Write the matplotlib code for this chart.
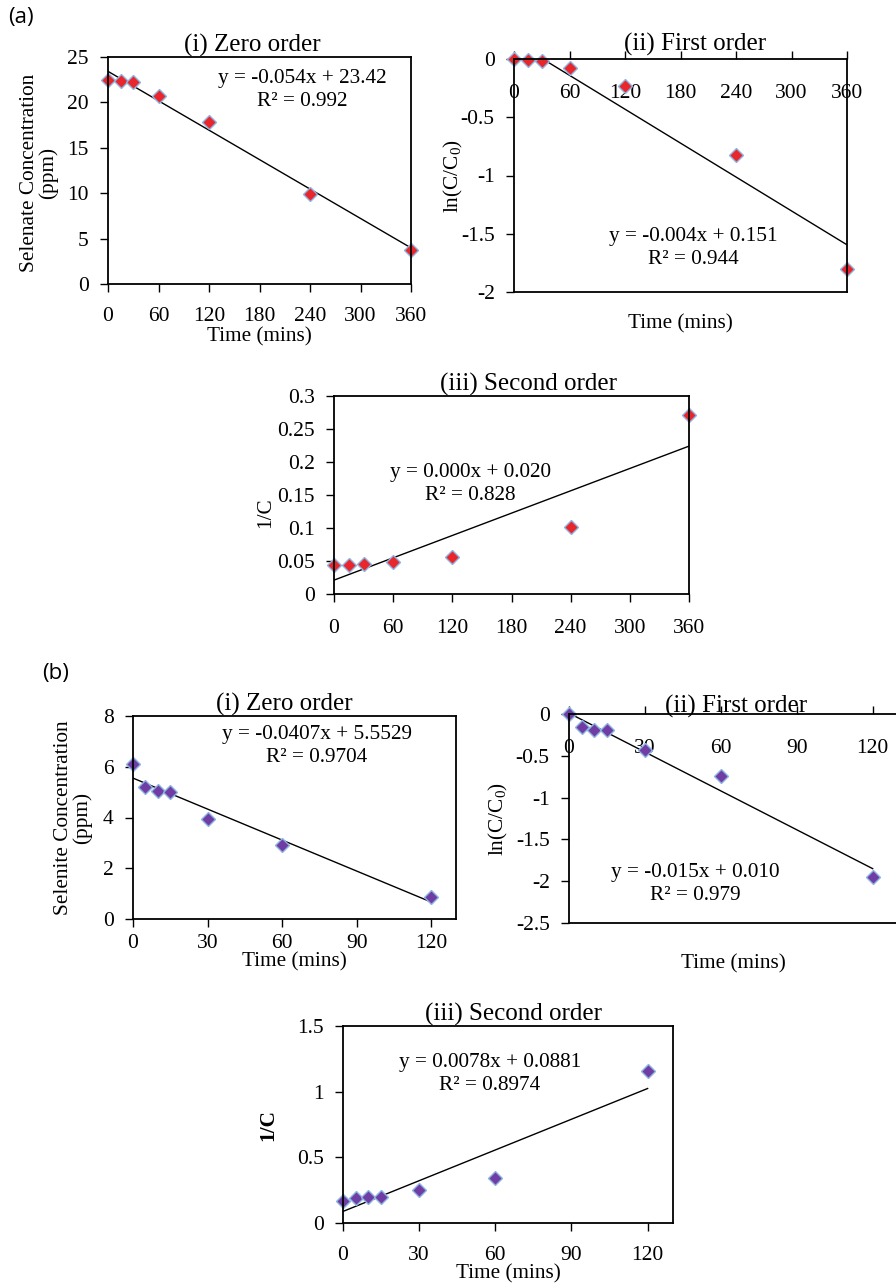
import numpy as np
import matplotlib
matplotlib.use('Agg')
import matplotlib.pyplot as plt

## Data
# (a) selenate
t_a = [0, 15, 30, 60, 120, 240, 360]
conc_a = [22.5, 22.4, 22.2, 20.7, 17.8, 9.9, 3.7]
lnc_a = [0.0, -0.005, -0.015, -0.08, -0.235, -0.82, -1.80]
inv_a = [0.0445, 0.0446, 0.045, 0.048, 0.056, 0.101, 0.271]
fit_a = [(-0.054, 23.42), (-0.00485, 0.151), (0.000564, 0.021)]
eq_a = [('y = -0.054x + 23.42', 'R² = 0.992'),
        ('y = -0.004x + 0.151', 'R² = 0.944'),
        ('y = 0.000x + 0.020', 'R² = 0.828')]

# (b) selenite
t_b = [0, 5, 10, 15, 30, 60, 120]
conc_b = [6.1, 5.2, 5.05, 5.02, 3.95, 2.93, 0.88]
lnc_b = [0.0, -0.16, -0.19, -0.19, -0.43, -0.74, -1.95]
inv_b = [0.164, 0.192, 0.198, 0.199, 0.253, 0.341, 1.155]
fit_b = [(-0.0407, 5.5529), (-0.0155, 0.010), (0.0078, 0.0881)]
eq_b = [('y = -0.0407x + 5.5529', 'R² = 0.9704'),
        ('y = -0.015x + 0.010', 'R² = 0.979'),
        ('y = 0.0078x + 0.0881', 'R² = 0.8974')]

W, H = 896, 1284
DPI = 100
PT = 72.0 / DPI   # points per pixel

plt.rcParams['font.family'] = ['Liberation Serif', 'DejaVu Serif']
plt.rcParams['mathtext.fontset'] = 'custom'
plt.rcParams['mathtext.rm'] = 'Liberation Serif'
plt.rcParams['mathtext.it'] = 'Liberation Serif:italic'

fig = plt.figure(figsize=(W / DPI, H / DPI), dpi=DPI)
fs_tick = 15.5
fs_title = 18
fs_lab = 15.3

red = '#E8262B'
purple = '#6F3DA3'
edge = '#8DB4E2'


def px_axes(l, t, r, b):
   return fig.add_axes([l / W, 1 - b / H, (r - l) / W, (b - t) / H])


def style(ax, xlim, ylim, xt, yt, xpad_px, top_axis=False):
   ax.set_xlim(xlim)
   ax.set_ylim(ylim)
   ax.set_xticks(xt)
   ax.set_yticks(yt)
   ax.set_yticklabels(['%g' % v for v in yt])
   for s in ax.spines.values():
      s.set_linewidth(1.3)
   ax.tick_params(axis='y', direction='out', length=6, width=1, pad=11 * PT, labelsize=fs_tick)
   if top_axis:
      # x axis crosses at y = 0 (top): ticks point up, labels hang below the line
      ax.tick_params(axis='x', direction='out', length=6, width=1, top=True, bottom=False,
                     labeltop=True, labelbottom=False, pad=-(xpad_px + 6) * PT, labelsize=fs_tick)
   else:
      ax.tick_params(axis='x', direction='out', length=6, width=1, pad=xpad_px * PT, labelsize=fs_tick)


def draw(ax, t, y, fit, color, xend):
   xs = np.array([t[0], xend])
   m, c = fit
   ax.plot(xs, m * xs + c, color='black', lw=1.0, zorder=1)
   ax.plot(t, y, 'D', markersize=7.5, markerfacecolor=color, markeredgecolor=edge,
           markeredgewidth=1.0, linestyle='none', zorder=2, clip_on=False)


def eq_text(xpx, ypx, lines):
   fig.text(xpx / W, 1 - ypx / H, lines[0], ha='center', va='center', fontsize=fs_lab)
   fig.text(xpx / W, 1 - (ypx + 23) / H, lines[1], ha='center', va='center', fontsize=fs_lab)


# ---------------- (a) ----------------
fig.text(8 / W, 1 - 18 / H, '(a)', family='Open Sans', fontsize=16, ha='left', va='center')

# (i) zero order
ax = px_axes(108, 57, 411, 284)
style(ax, (0, 360), (0, 25), range(0, 361, 60), range(0, 26, 5), 15)
draw(ax, t_a, conc_a, fit_a[0], red, 360)
ax.set_title('(i) Zero order', fontsize=fs_title, pad=4, x=0.475)
ax.set_ylabel('Selenate Concentration\n(ppm)', fontsize=fs_lab, linespacing=0.95)
ax.yaxis.set_label_coords(-0.165, 0.49)
ax.set_xlabel('Time (mins)', fontsize=fs_lab)
ax.xaxis.set_label_coords(0.5, -0.19)
eq_text(302, 78, eq_a[0])

# (ii) first order
ax = px_axes(514, 59, 847, 292)
style(ax, (0, 360), (-2, 0), range(0, 361, 60), [-2, -1.5, -1, -0.5, 0], 46, top_axis=True)
draw(ax, t_a, lnc_a, fit_a[1], red, 360)
ax.set_title('(ii) First order', fontsize=fs_title, pad=6, x=0.544)
ax.set_ylabel('ln(C/C$_0$)', fontsize=fs_lab)
ax.yaxis.set_label_coords(-0.147, 0.5)
ax.set_xlabel('Time (mins)', fontsize=fs_lab)
ax.xaxis.set_label_coords(0.5, -0.095)
eq_text(693, 236, eq_a[1])

# (iii) second order
ax = px_axes(334, 396, 689, 594)
style(ax, (0, 360), (0, 0.3), range(0, 361, 60), [0, 0.05, 0.1, 0.15, 0.2, 0.25, 0.3], 17)
draw(ax, t_a, inv_a, fit_a[2], red, 360)
ax.set_title('(iii) Second order', fontsize=fs_title, pad=3, x=0.549)
ax.set_ylabel('1/C', fontsize=fs_lab)
ax.yaxis.set_label_coords(-0.166, 0.41)
eq_text(470, 473, eq_a[2])

# ---------------- (b) ----------------
fig.text(42 / W, 1 - 673 / H, '(b)', family='Open Sans', fontsize=16, ha='left', va='center')

# (i) zero order
ax = px_axes(133, 716, 456, 919)
style(ax, (0, 130), (0, 8), range(0, 121, 30), range(0, 9, 2), 7)
draw(ax, t_b, conc_b, fit_b[0], purple, 120)
ax.set_title('(i) Zero order', fontsize=fs_title, pad=1, x=0.47)
ax.set_ylabel('Selenite Concentration\n(ppm)', fontsize=fs_lab, linespacing=0.95)
ax.yaxis.set_label_coords(-0.127, 0.5)
ax.set_xlabel('Time (mins)', fontsize=fs_lab)
ax.xaxis.set_label_coords(0.5, -0.165)
eq_text(317, 735, eq_b[0])

# (ii) first order (right edge runs past the figure, as in the source)
ax = px_axes(569, 714, 898, 923)
style(ax, (0, 130), (-2.5, 0), range(0, 121, 30), [-2.5, -2, -1.5, -1, -0.5, 0], 46, top_axis=True)
draw(ax, t_b, lnc_b, fit_b[1], purple, 120)
ax.set_title('(ii) First order', fontsize=fs_title, pad=1, x=0.508)
ax.set_ylabel('ln(C/C$_0$)', fontsize=fs_lab)
ax.yaxis.set_label_coords(-0.179, 0.5)
ax.set_xlabel('Time (mins)', fontsize=fs_lab)
ax.xaxis.set_label_coords(0.5, -0.148)
eq_text(695, 872, eq_b[1])

# (iii) second order
ax = px_axes(343, 1026, 673, 1223)
style(ax, (0, 130), (0, 1.5), range(0, 121, 30), [0, 0.5, 1, 1.5], 15)
draw(ax, t_b, inv_b, fit_b[2], purple, 120)
ax.set_title('(iii) Second order', fontsize=fs_title, pad=2, x=0.518)
ax.set_ylabel('1/C', fontsize=fs_lab, fontweight='bold')
ax.yaxis.set_label_coords(-0.197, 0.497)
ax.set_xlabel('Time (mins)', fontsize=fs_lab)
ax.xaxis.set_label_coords(0.5, -0.21)
eq_text(490, 1062, eq_b[2])

fig.savefig('out.png', dpi=DPI)
